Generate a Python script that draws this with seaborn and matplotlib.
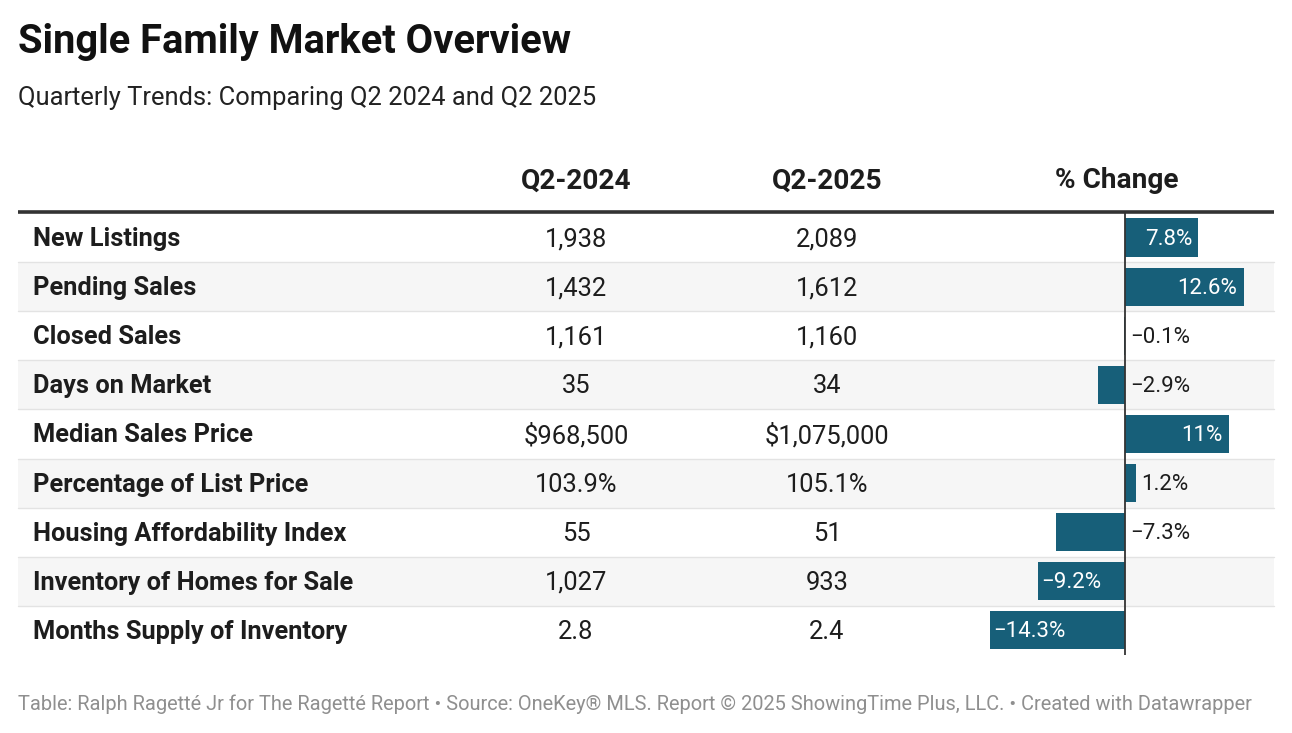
import matplotlib
matplotlib.use("Agg")
import matplotlib.pyplot as plt
import seaborn as sns
import pandas as pd
from matplotlib.patches import Rectangle

# ---------------- data ----------------
metrics = ["New Listings", "Pending Sales", "Closed Sales", "Days on Market",
           "Median Sales Price", "Percentage of List Price",
           "Housing Affordability Index", "Inventory of Homes for Sale",
           "Months Supply of Inventory"]
q2_2024 = ["1,938", "1,432", "1,161", "35", "$968,500", "103.9%", "55", "1,027", "2.8"]
q2_2025 = ["2,089", "1,612", "1,160", "34", "$1,075,000", "105.1%", "51", "933", "2.4"]
pct_change = [7.8, 12.6, -0.1, -2.9, 11, 1.2, -7.3, -9.2, -14.3]
pct_labels = ["7.8%", "12.6%", "\u22120.1%", "\u22122.9%", "11%", "1.2%",
              "\u22127.3%", "\u22129.2%", "\u221214.3%"]
col_headers = ["Q2-2024", "Q2-2025", "% Change"]

title = "Single Family Market Overview"
subtitle = "Quarterly Trends: Comparing Q2 2024 and Q2 2025"
footer = ("Table: Ralph Ragett\u00e9 Jr for The Ragett\u00e9 Report \u2022 Source: OneKey\u00ae MLS. "
          "Report \u00a9 2025 ShowingTime Plus, LLC. \u2022 Created with Datawrapper")

# ---------------- style ----------------
sns.set_theme(style="white")
plt.rcParams['font.family'] = ['Roboto', 'DejaVu Sans']

W, H = 1292, 733
fig = plt.figure(figsize=(W / 100, H / 100), dpi=100)
ax0 = fig.add_axes([0, 0, 1, 1])
ax0.set_xlim(0, W)
ax0.set_ylim(H, 0)
ax0.axis('off')

txt = "#1d1d1d"
bar_color = "#175f79"
left, right = 18, 1274
top, row_h = 213, 49.1
n = len(metrics)
bottom = top + n * row_h
col_x = [576, 827, 1117]

# titles
ax0.text(left, 42, title, fontsize=28.7, fontweight='bold', color="#111111", va='center', ha='left')
ax0.text(left, 98, subtitle, fontsize=18.4, color="#222222", va='center', ha='left')

# headers
for x, h in zip(col_x, col_headers):
    ax0.text(x, 181, h, fontsize=20.2, fontweight='bold', color=txt, va='center', ha='center')

# row backgrounds + separators
for i in range(n):
    y0 = top + i * row_h
    if i % 2 == 1:
        ax0.add_patch(Rectangle((left, y0), right - left, row_h, color="#f6f6f6", lw=0, zorder=0))
    if i > 0:
        ax0.plot([left, right], [y0, y0], color="#e3e3e3", lw=1.0, zorder=1)
ax0.plot([left, right], [top - 1, top - 1], color="#333333", lw=2.6, zorder=2, solid_capstyle='butt')

# row texts
for i, (m, a, b) in enumerate(zip(metrics, q2_2024, q2_2025)):
    yc = top + (i + 0.5) * row_h + 1.5
    ax0.text(33, yc, m, fontsize=18.3, fontweight='bold', color=txt, va='center', ha='left')
    ax0.text(col_x[0], yc, a, fontsize=18.4, color=txt, va='center', ha='center')
    ax0.text(col_x[1], yc, b, fontsize=18.4, color=txt, va='center', ha='center')

# footer
ax0.text(left, 704, footer, fontsize=14.4, color="#8f8f8f", va='center', ha='left')

# ---------------- bar column ----------------
zero_px = 1125
bar_left_px = 975
ppu = 9.42  # pixels per percent
axb = fig.add_axes([bar_left_px / W, 1 - bottom / H, (right - bar_left_px) / W, (bottom - top) / H])
df = pd.DataFrame({"metric": metrics, "change": pct_change})
sns.barplot(data=df, x="change", y="metric", order=metrics, orient='h',
            color=bar_color, saturation=1, width=0.78, linewidth=0, ax=axb)
axb.set_xlim(-(zero_px - bar_left_px) / ppu, (right - zero_px) / ppu)
axb.set_ylim(n - 0.5, -0.5)
axb.axis('off')
axb.axvline(0, color="#333333", lw=1.3, zorder=5)

for i, (v, lab) in enumerate(zip(pct_change, pct_labels)):
    y = i + 0.03
    if v >= 7.5:
        axb.annotate(lab, (v, y), xytext=(-4.5, 0), textcoords='offset points',
                     ha='right', va='center', fontsize=16, color='white')
    elif v <= -7.5:
        axb.annotate(lab, (v, y), xytext=(2, 0), textcoords='offset points',
                     ha='left', va='center', fontsize=16, color='white')
    else:
        axb.annotate(lab, (max(v, 0), y), xytext=(3.5, 0), textcoords='offset points',
                     ha='left', va='center', fontsize=16, color=txt)

fig.savefig("out.png", dpi=100)
